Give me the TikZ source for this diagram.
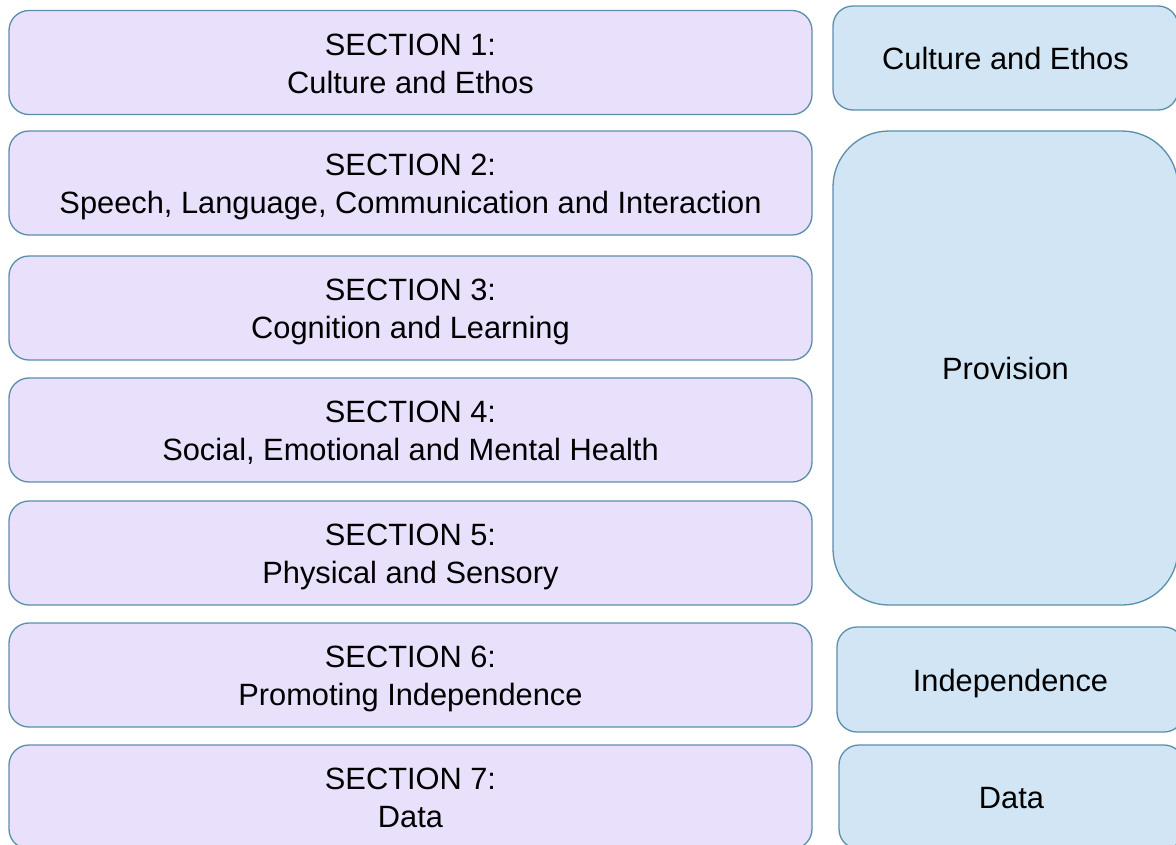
\documentclass[tikz,border=0pt]{standalone}
\usepackage{fontspec}
\setmainfont{Liberation Sans}
\definecolor{sectfill}{HTML}{E9E1FB}
\definecolor{areafill}{HTML}{D2E5F4}
\definecolor{boxline}{HTML}{5A8FAA}
% fixed line strut: 30pt above the baseline, 7pt below
\newcommand\lnstrut{\rule[-7pt]{0pt}{37pt}}
\begin{document}
\begin{tikzpicture}[x=1pt,y=-1pt,
  box/.style={draw=boxline, line width=1.3pt, rounded corners=20pt,
    inner sep=0pt, align=center, font=\fontsize{30.8}{38}\selectfont},
  sect/.style={box, fill=sectfill, minimum width=803pt, minimum height=104pt},
  area/.style={box, fill=areafill}]
\useasboundingbox (0,0) rectangle (1176,844);
\clip (0,0) rectangle (1176,844);
% section boxes on the left
\node[sect] (s1) at (410.5,62.5) {\lnstrut SECTION 1:\\\lnstrut Culture and Ethos};
\node[sect] (s2) at (410.5,183) {\lnstrut SECTION 2:\\\lnstrut Speech, Language, Communication and Interaction};
\node[sect] (s3) at (410.5,308) {\lnstrut SECTION 3:\\\lnstrut Cognition and Learning};
\node[sect] (s4) at (410.5,430) {\lnstrut SECTION 4:\\\lnstrut Social, Emotional and Mental Health};
\node[sect] (s5) at (410.5,553) {\lnstrut SECTION 5:\\\lnstrut Physical and Sensory};
\node[sect] (s6) at (410.5,675) {\lnstrut SECTION 6:\\\lnstrut Promoting Independence};
\node[sect] (s7) at (410.5,797) {\lnstrut SECTION 7:\\\lnstrut Data};
% grouping boxes on the right
\node[area, minimum width=345pt, minimum height=104pt] (ce) at (1005.5,58) {\lnstrut Culture and Ethos};
\node[area, rounded corners=56pt, minimum width=345pt, minimum height=474pt] (pr) at (1005.5,368) {\lnstrut Provision};
\node[area, minimum width=347pt, minimum height=105pt] (in) at (1010.5,679.5) {\lnstrut Independence};
\node[area, minimum width=345pt, minimum height=104pt] (da) at (1011.5,797) {\lnstrut Data};
\end{tikzpicture}
\end{document}
